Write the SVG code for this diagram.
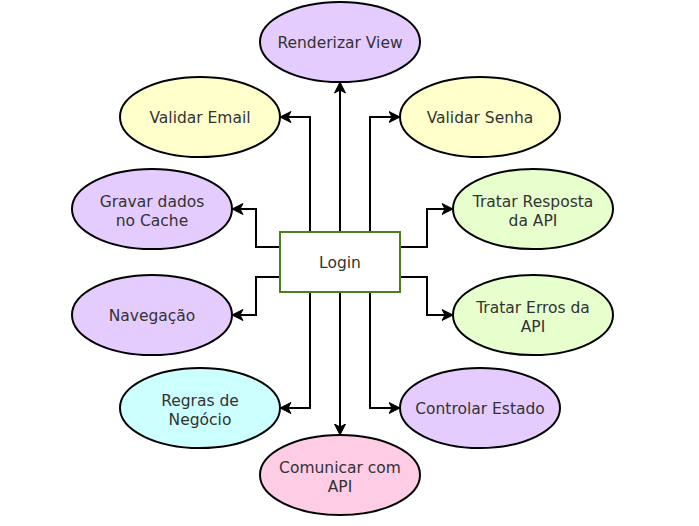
<svg xmlns="http://www.w3.org/2000/svg" width="699" height="526" viewBox="0 0 699 526">
<defs>
<marker id="arr" viewBox="0 0 12 12" refX="11.5" refY="6" markerWidth="12" markerHeight="12" markerUnits="userSpaceOnUse" orient="auto">
<path d="M0.5,0.5 L11.5,6 L0.5,11.5 L3.5,6 Z" fill="#000" stroke="#000" stroke-width="1"/>
</marker>
<style>
.e{stroke:#000;stroke-width:2}
.t{font-family:"DejaVu Sans",Verdana,sans-serif;font-size:15.5px;fill:#333333;text-anchor:middle}
.c{fill:none;stroke:#000;stroke-width:2;marker-end:url(#arr)}
.purple{fill:#E5CCFF}.yellow{fill:#FFFFCC}.green{fill:#E6FFCC}.cyan{fill:#CCFFFF}.pink{fill:#FFCCE6}
</style>
</defs>
<rect width="699" height="526" fill="#fff"/>
<g id="connectors">
<path class="c" d="M340,232 V82"/>
<path class="c" d="M310,232 V117 H280"/>
<path class="c" d="M370,232 V117 H400"/>
<path class="c" d="M280,247 H256 V209 H232"/>
<path class="c" d="M280,277 H256 V315 H232"/>
<path class="c" d="M400,247 H427 V209 H453"/>
<path class="c" d="M400,277 H427 V315 H453"/>
<path class="c" d="M310,292 V408 H280"/>
<path class="c" d="M370,292 V408 H400"/>
<path class="c" d="M340,292 V435"/>
</g>
<g id="login">
<rect x="280" y="232" width="120" height="60" fill="#fff" stroke="#4D8019" stroke-width="2"/>
<text class="t" x="340" y="267.5">Login</text>
</g>
<g id="renderizar">
<ellipse class="e purple" cx="340" cy="42" rx="80" ry="40"/>
<text class="t" x="340" y="47.5">Renderizar View</text>
</g>
<g id="validar-email">
<ellipse class="e yellow" cx="200" cy="117" rx="80" ry="40"/>
<text class="t" x="200" y="122.5">Validar Email</text>
</g>
<g id="validar-senha">
<ellipse class="e yellow" cx="480" cy="117" rx="80" ry="40"/>
<text class="t" x="480" y="122.5">Validar Senha</text>
</g>
<g id="gravar-cache">
<ellipse class="e purple" cx="152" cy="209" rx="80" ry="40"/>
<text class="t" x="152" y="207">Gravar dados</text>
<text class="t" x="152" y="225.5">no Cache</text>
</g>
<g id="tratar-resposta">
<ellipse class="e green" cx="533" cy="209" rx="80" ry="40"/>
<text class="t" x="533" y="207">Tratar Resposta</text>
<text class="t" x="533" y="225.5">da API</text>
</g>
<g id="navegacao">
<ellipse class="e purple" cx="152" cy="315" rx="80" ry="40"/>
<text class="t" x="152" y="320.5">Navegação</text>
</g>
<g id="tratar-erros">
<ellipse class="e green" cx="533" cy="315" rx="80" ry="40"/>
<text class="t" x="533" y="313">Tratar Erros da</text>
<text class="t" x="533" y="331.5">API</text>
</g>
<g id="regras">
<ellipse class="e cyan" cx="200" cy="408" rx="80" ry="40"/>
<text class="t" x="200" y="406">Regras de</text>
<text class="t" x="200" y="424.5">Negócio</text>
</g>
<g id="controlar">
<ellipse class="e purple" cx="480" cy="408" rx="80" ry="40"/>
<text class="t" x="480" y="413.5">Controlar Estado</text>
</g>
<g id="comunicar">
<ellipse class="e pink" cx="340" cy="475" rx="80" ry="40"/>
<text class="t" x="340" y="473">Comunicar com</text>
<text class="t" x="340" y="491.5">API</text>
</g>
</svg>
